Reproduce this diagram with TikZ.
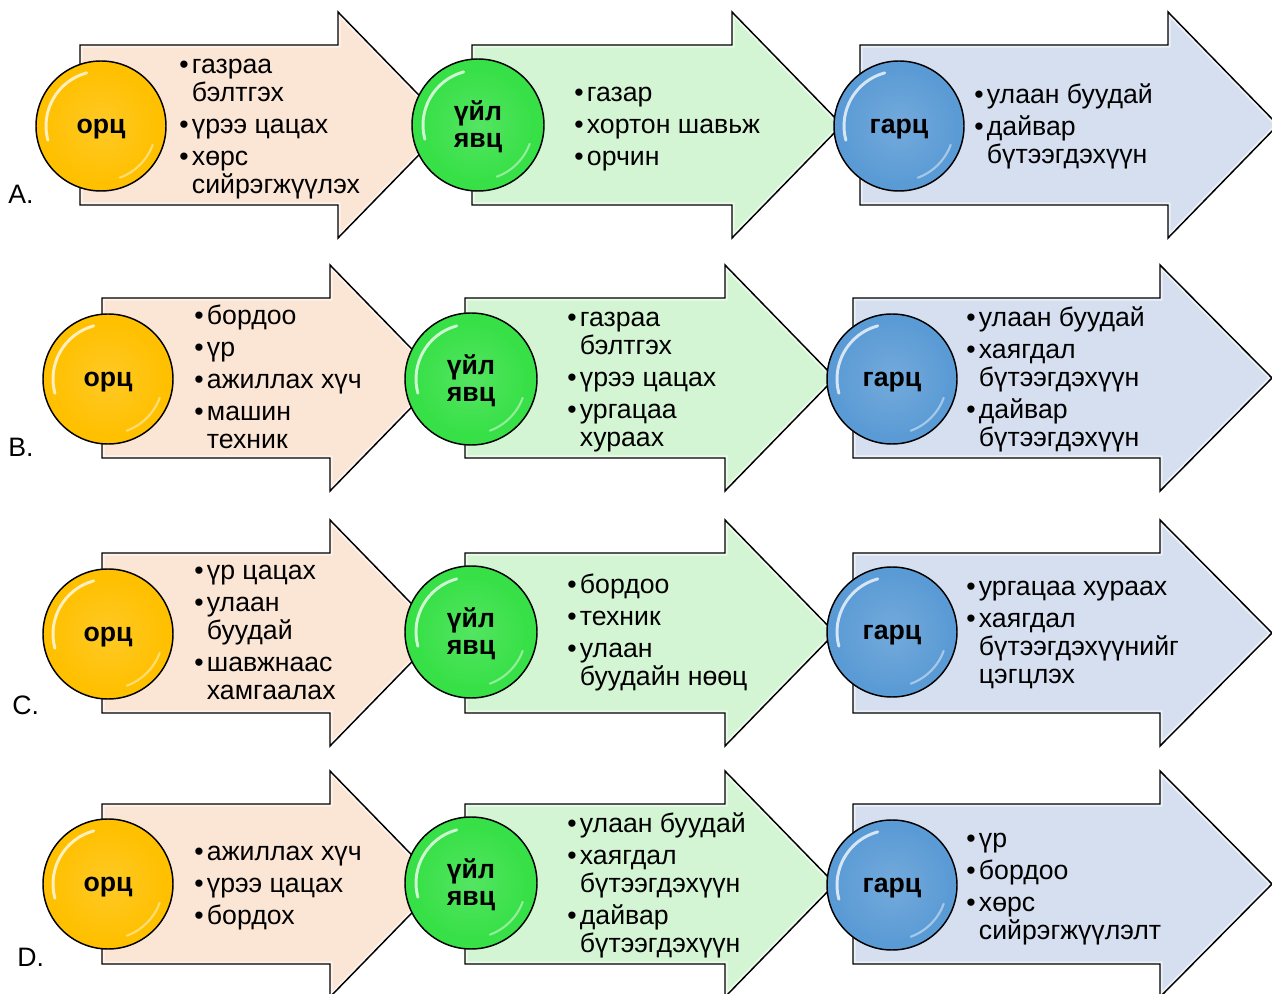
\documentclass[tikz,border=0pt]{standalone}
\usepackage{fontspec}
\setmainfont{Liberation Sans}
\usetikzlibrary{calc}
\definecolor{peachF}{HTML}{FBE5D5}
\definecolor{mintF}{HTML}{D4F5D4}
\definecolor{steelF}{HTML}{D6DFEF}
\definecolor{goldC}{HTML}{FFC000}
\definecolor{greenC}{HTML}{36E046}
\definecolor{blueC}{HTML}{5B9BD5}
\pgfdeclareradialshading{goldBall}{\pgfpoint{0bp}{0bp}}{color(0bp)=(goldC!85!white); color(22bp)=(goldC); color(43bp)=(goldC); color(50bp)=(goldC!82!black)}
\pgfdeclareradialshading{greenBall}{\pgfpoint{0bp}{0bp}}{color(0bp)=(greenC!85!white); color(22bp)=(greenC); color(43bp)=(greenC); color(50bp)=(greenC!82!black)}
\pgfdeclareradialshading{blueBall}{\pgfpoint{0bp}{0bp}}{color(0bp)=(blueC!85!white); color(22bp)=(blueC); color(43bp)=(blueC); color(50bp)=(blueC!82!black)}
\newcommand\arrowpath[4]{(#1,#4-80) -- (#2,#4-80) -- (#2,#4-113) -- (#3,#4) -- (#2,#4+113) -- (#2,#4+80) -- (#1,#4+80) -- cycle}
\newcommand\bigarrow[5]{%
  \begin{scope}
    \clip \arrowpath{#1}{#2}{#3}{#4};
    \fill[#5] \arrowpath{#1}{#2}{#3}{#4};
    \draw[white,opacity=.55,line width=4pt] \arrowpath{#1}{#2}{#3}{#4};
  \end{scope}
  \draw[outl] \arrowpath{#1}{#2}{#3}{#4};}
\newcommand\gloss[1]{%
  \draw[white,opacity=.75,line width=2.2pt,line cap=round] ([shift={(-105:55)}]#1.center) arc (-105:-195:55);
  \draw[white,opacity=.45,line width=1.6pt,line cap=round] ([shift={(20:55)}]#1.center) arc (20:70:55);}
\newcommand\topstrut{\rule{0pt}{0.82em}}
\newcommand\botstrut{\rule[-0.3em]{0pt}{0.3em}}
\newcommand\bl{\textbullet\hspace{2.5pt}}
\newcommand\ind{\phantom{\textbullet}\hspace{2.5pt}}
\newcommand\blk[1]{\topstrut#1\botstrut}
\begin{document}
\begin{tikzpicture}[x=0.75pt,y=-0.75pt,
  outl/.style={draw=black,line width=1.1pt,line join=miter},
  ball/.style={circle,draw=black,line width=1.1pt,inner sep=0pt,minimum size=97.5pt},
  goldball/.style={ball,shade,shading=goldBall},
  greenball/.style={ball,shade,shading=greenBall,minimum size=99pt},
  blueball/.style={ball,shade,shading=blueBall},
  ctext/.style={align=center,inner sep=0pt,font=\bfseries\fontsize{20}{20.5}\selectfont},
  txt/.style={anchor=west,align=left,inner sep=0pt,font=\fontsize{20}{21}\selectfont},
  lbl/.style={anchor=west,inner sep=0pt,font=\fontsize{20}{21}\selectfont}]
\useasboundingbox (0,0) rectangle (1272,994);
% ---------- arrows ----------
\bigarrow{80}{338}{448}{125}{peachF}
\bigarrow{472}{732}{842}{125}{mintF}
\bigarrow{860}{1168}{1278}{125}{steelF}
\bigarrow{102}{330}{440}{378}{peachF}
\bigarrow{465}{725}{835}{378}{mintF}
\bigarrow{853}{1160}{1272}{378}{steelF}
\bigarrow{102}{330}{440}{633}{peachF}
\bigarrow{465}{725}{835}{633}{mintF}
\bigarrow{853}{1160}{1272}{633}{steelF}
\bigarrow{102}{330}{440}{884}{peachF}
\bigarrow{465}{725}{835}{884}{mintF}
\bigarrow{853}{1160}{1272}{884}{steelF}
% ---------- circles ----------
\node[goldball]  (oA) at (101,126) {};
\node[greenball] (pA) at (478,125) {};
\node[blueball]  (gA) at (899,126) {};
\node[goldball]  (oB) at (108,379) {};
\node[greenball] (pB) at (471,379) {};
\node[blueball]  (gB) at (892,379) {};
\node[goldball]  (oC) at (108,634) {};
\node[greenball] (pC) at (471,632) {};
\node[blueball]  (gC) at (892,632) {};
\node[goldball]  (oD) at (108,884) {};
\node[greenball] (pD) at (471,883) {};
\node[blueball]  (gD) at (892,885) {};
\foreach \c in {oA,pA,gA,oB,pB,gB,oC,pC,gC,oD,pD,gD}{\gloss{\c}}
\foreach \c in {oA,oB,oC,oD}{\node[ctext] (\c t) at ([yshift=-2.5pt]\c.center) {орц};}
\foreach \c in {pA,pB,pC,pD}{\node[ctext] (\c t) at ([yshift=-1.5pt]\c.center) {үйл\\явц};}
\foreach \c in {gA,gB,gC,gD}{\node[ctext] (\c t) at ([yshift=-2.5pt]\c.center) {гарц};}
% ---------- texts ----------
\node[txt] (tA1) at (179,127) {\blk{\bl газраа\\\ind бэлтгэх\\[3pt]\bl үрээ цацах\\[3pt]\bl хөрс\\\ind сийрэгжүүлэх}};
\node[txt] (tA2) at (574,127) {\blk{\bl газар\\[3pt]\bl хортон шавьж\\[3pt]\bl орчин}};
\node[txt] (tA3) at (974,127) {\blk{\bl улаан буудай\\[3pt]\bl дайвар\\\ind бүтээгдэхүүн}};
\node[txt] (tB1) at (194,380) {\blk{\bl бордоо\\[3pt]\bl үр\\[3pt]\bl ажиллах хүч\\[3pt]\bl машин\\\ind техник}};
\node[txt] (tB2) at (567,380) {\blk{\bl газраа\\\ind бэлтгэх\\[3pt]\bl үрээ цацах\\[3pt]\bl ургацаа\\\ind хураах}};
\node[txt] (tB3) at (966,380) {\blk{\bl улаан буудай\\[3pt]\bl хаягдал\\\ind бүтээгдэхүүн\\[3pt]\bl дайвар\\\ind бүтээгдэхүүн}};
\node[txt] (tC1) at (194,633) {\blk{\bl үр цацах\\[3pt]\bl улаан\\\ind буудай\\[3pt]\bl шавжнаас\\\ind хамгаалах}};
\node[txt] (tC2) at (567,633) {\blk{\bl бордоо\\[3pt]\bl техник\\[3pt]\bl улаан\\\ind буудайн нөөц}};
\node[txt] (tC3) at (966,633) {\blk{\bl ургацаа хураах\\[3pt]\bl хаягдал\\\ind бүтээгдэхүүнийг\\\ind цэгцлэх}};
\node[txt] (tD1) at (194,886) {\blk{\bl ажиллах хүч\\[3pt]\bl үрээ цацах\\[3pt]\bl бордох}};
\node[txt] (tD2) at (567,886) {\blk{\bl улаан буудай\\[3pt]\bl хаягдал\\\ind бүтээгдэхүүн\\[3pt]\bl дайвар\\\ind бүтээгдэхүүн}};
\node[txt] (tD3) at (966,887) {\blk{\bl үр\\[3pt]\bl бордоо\\[3pt]\bl хөрс\\\ind сийрэгжүүлэлт}};
% ---------- row labels ----------
\node[lbl] (lA) at (8,194) {A.};
\node[lbl] (lB) at (8,447) {B.};
\node[lbl] (lC) at (12,705) {C.};
\node[lbl] (lD) at (17,957) {D.};
\end{tikzpicture}
\end{document}
